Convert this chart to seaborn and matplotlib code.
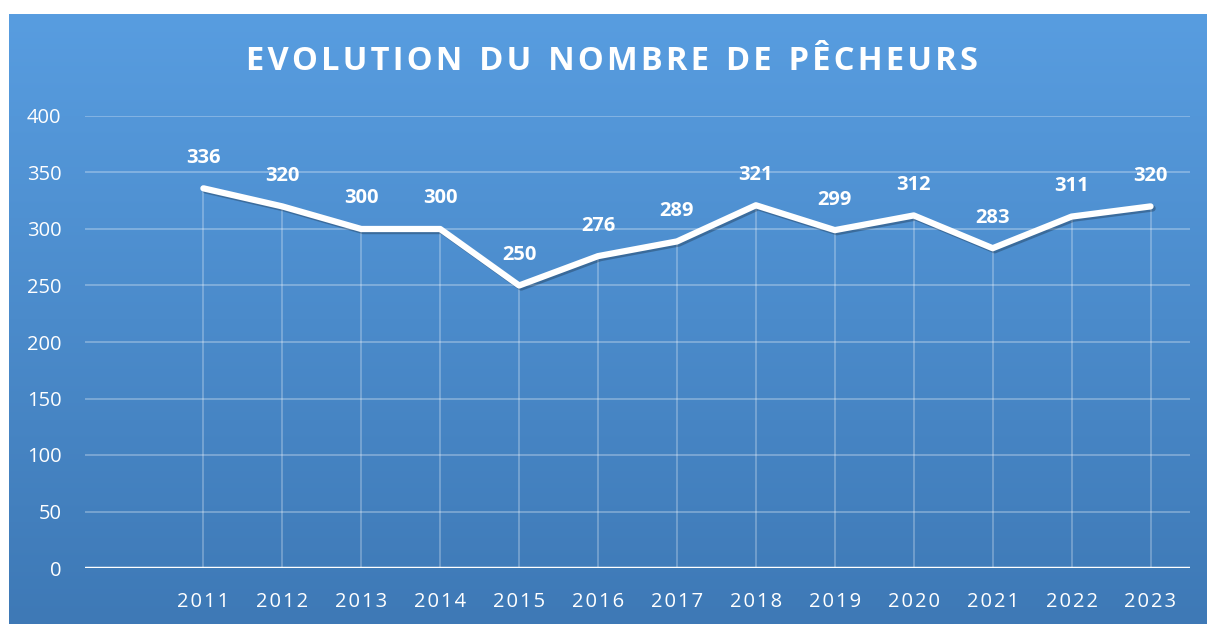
import numpy as np
import pandas as pd
import matplotlib.pyplot as plt
import matplotlib.patheffects as pe
import seaborn as sns

years = ['2011', '2012', '2013', '2014', '2015', '2016', '2017',
         '2018', '2019', '2020', '2021', '2022', '2023']
pecheurs = [336, 320, 300, 300, 250, 276, 289, 321, 299, 312, 283, 311, 320]
title = 'EVOLUTION DU NOMBRE DE PÊCHEURS'

df = pd.DataFrame({'annee': years, 'n': pecheurs})
df['pos'] = np.arange(len(df))

sns.set_style('white')
plt.rcParams['font.family'] = ['Open Sans', 'DejaVu Sans']

fig = plt.figure(figsize=(12.07, 6.24), dpi=100, facecolor='white')

# blue gradient panel behind the chart
bg = fig.add_axes([9 / 1207, 0, 1 - 9 / 1207, 1 - 14 / 624], zorder=0)
grad = np.linspace(0, 1, 256).reshape(-1, 1)
top = np.array([88, 157, 224]) / 255
bot = np.array([62, 121, 182]) / 255
img = top + (bot - top) * grad[:, :, None]
bg.imshow(img, aspect='auto', extent=[0, 1, 0, 1])
bg.axis('off')

ax = fig.add_axes([85 / 1207, 56 / 624, (1190 - 85) / 1207, (568 - 116) / 624], zorder=1)
ax.patch.set_alpha(0)

# drop lines
ax.vlines(df['pos'], 0, df['n'], color='white', alpha=0.3, lw=1.2, zorder=1)

sns.lineplot(data=df, x='pos', y='n', ax=ax, color='white', lw=4.5,
             zorder=3, solid_joinstyle='round', solid_capstyle='round',
             path_effects=[pe.SimpleLineShadow(offset=(1.5, -1.5), alpha=0.25), pe.Normal()])

for x, v in zip(df['pos'], df['n']):
    ax.annotate(str(v), (x, v), xytext=(0, 22), textcoords='offset points',
                ha='center', va='center', color='white', fontsize=14.5, fontweight='bold')

ax.set_xlim(-1.5, 12.5)
ax.set_ylim(0, 400)
ax.set_yticks(range(0, 401, 50))
ax.set_xticks(df['pos'])
ax.set_xticklabels(['\u200a'.join(y) for y in years], fontsize=14.5, color='white')
ax.tick_params(axis='y', labelsize=14.5, colors='white', length=0, pad=17)
ax.tick_params(axis='x', length=0, pad=17)
for lbl in ax.get_yticklabels():
    lbl.set_color('white')
ax.grid(axis='y', color='white', alpha=0.3, lw=1.3)
ax.set_axisbelow(True)
ax.axhline(0, color='white', lw=2.5, zorder=2)
for s in ax.spines.values():
    s.set_visible(False)
ax.set_xlabel('')
ax.set_ylabel('')

fig.text(612 / 1207, 1 - 61 / 624, '\u200a'.join(title).replace('\u200a \u200a', '  '),
         ha='center', va='center', color='white', fontsize=23.5, fontweight='bold')

fig.savefig('out.png', dpi=100)
